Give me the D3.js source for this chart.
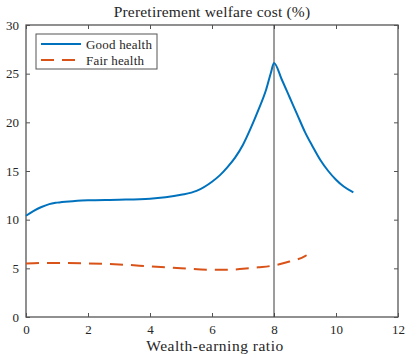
<!DOCTYPE html>
<html>
<head>
<meta charset="utf-8">
<script src="https://cdn.jsdelivr.net/npm/d3@7"></script>
<style>
  body { margin: 0; background: #fff; }
  svg { display: block; }
</style>
</head>
<body>
<div id="chart"></div>
<script>
// wealth-earning ratio samples and welfare cost (%)
const goodX = [0, 0.25, 0.5, 0.75, 1, 1.5, 2, 3, 4, 4.5, 5, 5.5, 6, 6.25, 6.5, 6.75, 7, 7.25, 7.5, 7.75, 7.9, 8,
               8.25, 8.5, 8.75, 9, 9.25, 9.5, 9.75, 10, 10.25, 10.56];
const goodY = [10.4, 10.9, 11.3, 11.6, 11.75, 11.9, 12.0, 12.05, 12.15, 12.3, 12.55, 12.95, 13.9, 14.55, 15.4, 16.4, 17.7, 19.4, 21.3, 23.4, 25.1, 26.1,
               24.4, 22.6, 20.8, 19.0, 17.5, 16.1, 15.0, 14.1, 13.4, 12.8];
const fairX = [0, 0.5, 1, 2, 3, 4, 5, 6, 6.5, 7, 7.5, 8, 8.5, 9, 9.05];
const fairY = [5.5, 5.55, 5.55, 5.5, 5.4, 5.2, 5.0, 4.85, 4.85, 4.95, 5.1, 5.3, 5.7, 6.25, 6.35];
const xTicks = [0, 2, 4, 6, 8, 10, 12];
const yTicks = [0, 5, 10, 15, 20, 25, 30];
const seriesNames = ['Good health', 'Fair health'];
const markerX = 8;

const width = 407, height = 356;
const margin = { top: 25, right: 9, bottom: 39, left: 26 };
const serif = '"Liberation Serif", "DejaVu Serif", "Times New Roman", serif';

const svg = d3.select('#chart').append('svg')
  .attr('width', width)
  .attr('height', height)
  .style('font-family', serif);

const x = d3.scaleLinear().domain([0, 12]).range([margin.left, width - margin.right]);
const y = d3.scaleLinear().domain([0, 30]).range([height - margin.bottom, margin.top]);

const axisColor = '#262626';
const tickLen = 4;

function styleAxis(g, hideText) {
  g.attr('font-family', null).style('font-family', serif);
  g.select('.domain').remove();
  g.selectAll('.tick line').attr('stroke', axisColor).attr('stroke-width', 0.8);
  g.selectAll('.tick text')
    .style('font-size', '13px')
    .style('font-family', serif)
    .attr('fill', axisColor);
  if (hideText) g.selectAll('.tick text').remove();
}

// bottom / top
svg.append('g')
  .attr('transform', `translate(0,${y(0)})`)
  .call(d3.axisBottom(x).tickValues(xTicks).tickSizeInner(-tickLen).tickSizeOuter(0).tickPadding(8).tickFormat(d3.format('d')))
  .call(g => styleAxis(g, false));
svg.append('g')
  .attr('transform', `translate(0,${y(30)})`)
  .call(d3.axisTop(x).tickValues(xTicks).tickSizeInner(-tickLen).tickSizeOuter(0))
  .call(g => styleAxis(g, true));
// left / right
svg.append('g')
  .attr('transform', `translate(${x(0)},0)`)
  .call(d3.axisLeft(y).tickValues(yTicks).tickSizeInner(-tickLen).tickSizeOuter(0).tickPadding(7).tickFormat(d3.format('d')))
  .call(g => styleAxis(g, false));
svg.append('g')
  .attr('transform', `translate(${x(12)},0)`)
  .call(d3.axisRight(y).tickValues(yTicks).tickSizeInner(-tickLen).tickSizeOuter(0))
  .call(g => styleAxis(g, true));

// box
svg.append('rect')
  .attr('x', x(0)).attr('y', y(30))
  .attr('width', x(12) - x(0)).attr('height', y(0) - y(30))
  .attr('fill', 'none')
  .attr('stroke', '#555')
  .attr('stroke-width', 1.3);

// vertical marker
svg.append('line')
  .attr('x1', x(markerX)).attr('x2', x(markerX))
  .attr('y1', y(30)).attr('y2', y(0))
  .attr('stroke', '#3a3a3a')
  .attr('stroke-width', 1);

const line = d3.line()
  .x(d => x(d[0]))
  .y(d => y(d[1]))
  .curve(d3.curveMonotoneX);

const goodData = goodX.map((v, i) => [v, goodY[i]]);
const fairData = fairX.map((v, i) => [v, fairY[i]]);

svg.append('path')
  .datum(goodData)
  .attr('d', line)
  .attr('fill', 'none')
  .attr('stroke', '#0072BD')
  .attr('stroke-width', 2);

svg.append('path')
  .datum(fairData)
  .attr('d', line)
  .attr('fill', 'none')
  .attr('stroke', '#D95319')
  .attr('stroke-width', 2)
  .attr('stroke-dasharray', '13,8');

// title and axis label
svg.append('text')
  .attr('x', (x(0) + x(12)) / 2)
  .attr('y', 17)
  .attr('text-anchor', 'middle')
  .attr('fill', axisColor)
  .style('font-size', '15.5px')
  .style('letter-spacing', '0.2px')
  .text('Preretirement welfare cost (%)');

svg.append('text')
  .attr('x', (x(0) + x(12)) / 2 + 3)
  .attr('y', 351)
  .attr('text-anchor', 'middle')
  .attr('fill', axisColor)
  .style('font-size', '15.5px')
  .style('letter-spacing', '0.5px')
  .text('Wealth-earning ratio');

// legend
const legend = svg.append('g').attr('transform', 'translate(36,34)');
legend.append('rect')
  .attr('width', 121).attr('height', 35)
  .attr('fill', '#fff')
  .attr('stroke', '#555')
  .attr('stroke-width', 1);

const legendStyles = [
  { color: '#0072BD', dash: null },
  { color: '#D95319', dash: '13,8' }
];
seriesNames.forEach((name, i) => {
  const ly = 10 + i * 16;
  legend.append('line')
    .attr('x1', 5).attr('x2', 45)
    .attr('y1', ly).attr('y2', ly)
    .attr('stroke', legendStyles[i].color)
    .attr('stroke-width', 2)
    .attr('stroke-dasharray', legendStyles[i].dash);
  legend.append('text')
    .attr('x', 50).attr('y', ly + 4.5)
    .attr('fill', axisColor)
    .style('font-size', '13px')
    .style('letter-spacing', '0.2px')
    .text(name);
});
</script>
</body>
</html>
